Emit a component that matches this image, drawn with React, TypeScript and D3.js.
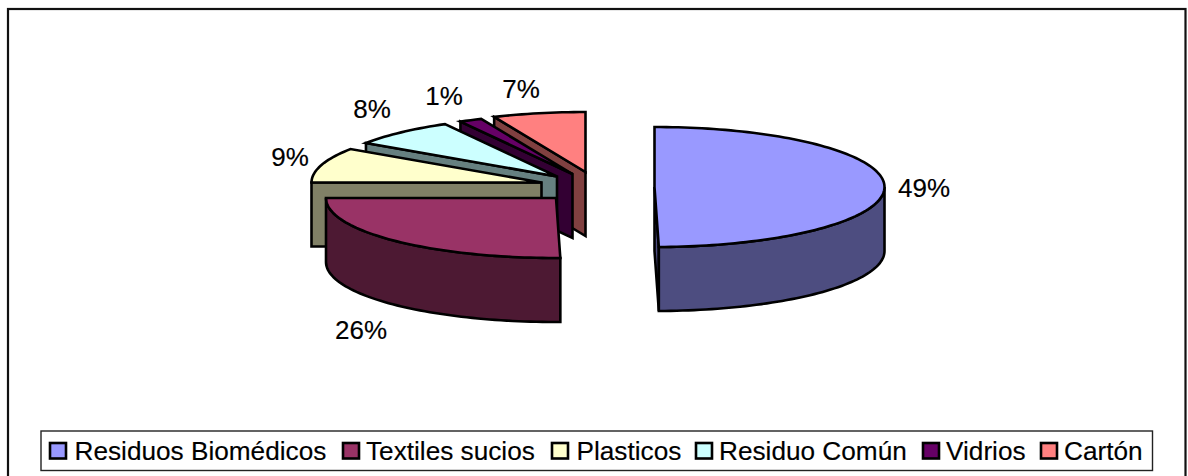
import React from "react";
import * as d3 from "d3";

const categories = ["Residuos Biomédicos", "Textiles sucios", "Plasticos", "Residuo Común", "Vidrios", "Cartón"];
// Share of the tilted picture taken by each slice, as read from it.
const sliceShares = [49.7, 25.3, 9.4, 7.5, 1.6, 6.5];
const percentLabels = ["49%", "26%", "9%", "8%", "1%", "7%"];
const topColors = ["#9999FF", "#993366", "#FFFFCC", "#CCFFFF", "#660066", "#FF8080"];
const sideColors = ["#4D4D80", "#4D1933", "#808066", "#668080", "#330033", "#804040"];

// Layout, separate from the data.
const W = 1188, H = 476;
const RX = 230, RY = 60, DEPTH = 64;
const apexes: [number, number][] = [[654.5, 187], [556, 198], [541.5, 182.5], [557, 176.5], [572.5, 174], [585.5, 172]];
const labelPos: [number, number][] = [[924, 197], [361, 339], [290, 166], [372, 118], [444, 105], [521, 98]];
const legendSwatchX = [50, 343, 552, 696, 923, 1041];
const legendTextX = [74.5, 366, 576.5, 719, 946, 1064];
const FONT = "'Liberation Sans', Arial, sans-serif";

const TAU = 2 * Math.PI;
const deg90 = TAU / 4;

export default function App() {
  const arcs = d3.pie<number>().sort(null).value((d) => d)(sliceShares);
  const line = d3.line();
  const pt = (i: number, a: number, dy = 0): [number, number] => [
    apexes[i][0] + RX * Math.sin(a),
    apexes[i][1] - RY * Math.cos(a) + dy,
  ];
  const sample = (i: number, a0: number, a1: number, dy = 0) => {
    const n = Math.max(2, Math.ceil(((a1 - a0) / TAU) * 240));
    return d3.range(n + 1).map((k) => pt(i, a0 + ((a1 - a0) * k) / n, dy));
  };

  const slices = arcs.map((arc, i) => {
    const [cx, cy] = apexes[i];
    const top = line([[cx, cy], ...sample(i, arc.startAngle, arc.endAngle)])! + "Z";
    const walls: string[] = [];
    if (arc.endAngle < Math.PI) {
      const e = pt(i, arc.endAngle);
      walls.push(line([[cx, cy], e, [e[0], e[1] + DEPTH], [cx, cy + DEPTH]])! + "Z");
    }
    if (arc.startAngle >= Math.PI + 0.1) {
      const s = pt(i, arc.startAngle);
      walls.push(line([[cx, cy], s, [s[0], s[1] + DEPTH], [cx, cy + DEPTH]])! + "Z");
    }
    const a0 = Math.max(arc.startAngle, deg90);
    const a1 = Math.min(arc.endAngle, 3 * deg90);
    if (a1 > a0) {
      walls.push(line([...sample(i, a0, a1), ...sample(i, a0, a1, DEPTH).reverse()])! + "Z");
    }
    return { top, walls, i };
  });

  const stroke = { stroke: "#000", strokeWidth: 2.6, strokeLinejoin: "miter" as const };

  return (
    <svg width={W} height={H} style={{ position: "absolute", left: 0, top: 0 }} fontFamily={FONT}>
      <rect x={0} y={0} width={W} height={H} fill="#fff" />
      <rect x={8} y={9} width={1177.5} height={H + 20} fill="#fff" stroke="#111" strokeWidth={2.2} />
      <g>
        {[5, 4, 3, 2, 1, 0].map((i) => {
          const s = slices[i];
          return (
            <g key={i}>
              {s.walls.map((d, k) => (
                <path key={k} d={d} fill={sideColors[i]} {...stroke} />
              ))}
              <path d={s.top} fill={topColors[i]} {...stroke} />
            </g>
          );
        })}
      </g>
      {percentLabels.map((t, i) => (
        <text key={t} x={labelPos[i][0]} y={labelPos[i][1]} textAnchor="middle" fontSize={26} fill="#000" stroke="#000" strokeWidth={0.15}>
          {t}
        </text>
      ))}
      <rect x={41} y={431} width={1111.5} height={39.5} fill="#fff" stroke="#222" strokeWidth={1.4} />
      {categories.map((c, i) => (
        <g key={c}>
          <rect x={legendSwatchX[i]} y={443} width={16} height={15.5} fill={topColors[i]} stroke="#000" strokeWidth={2.6} />
          <text x={legendTextX[i]} y={460} fontSize={26.2} fill="#000" stroke="#000" strokeWidth={0.15}>
            {c}
          </text>
        </g>
      ))}
    </svg>
  );
}
